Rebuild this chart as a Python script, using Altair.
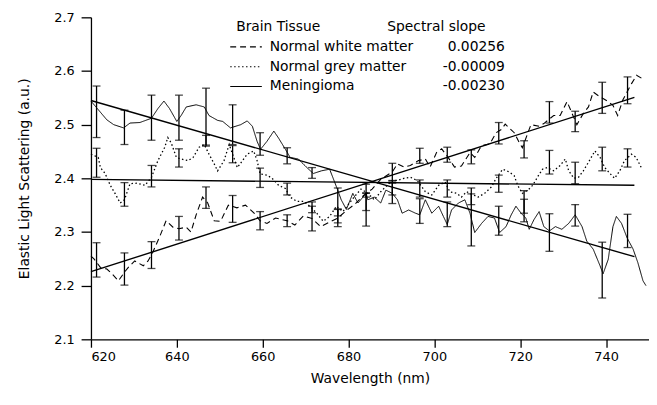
import altair as alt
import pandas as pd

# ---------------- data ----------------
# Normal white matter (dashed)
wm_wl = [620, 620.7, 622.2, 623.7, 624.9, 626.4, 627.8, 628.7, 630.2, 632.2, 633.3, 634.5, 636, 637.5,
         639.1, 640.5, 642.2, 643.3, 644.5, 646, 647.2, 648.7, 650.2, 652, 654, 656, 658, 659.4, 661,
         663, 665.7, 667.5, 669.5, 671.5, 673.5, 675.5, 677.5, 679.5, 681.5, 683.5, 685.5, 687.5, 690.2,
         691.4, 692.9, 694.4, 696.3, 697.9, 699, 700.5, 701.7, 703.2, 704.7, 706.3, 708.3, 709.4, 711,
         712.9, 714.4, 715.6, 716.5, 718.6, 719.8, 720.5, 722.5, 724.4, 725.5, 727.8, 729.3, 730.9,
         733.2, 734.7, 735.9, 737, 738.2, 740.5, 741.6, 742.7, 743.9, 745.9, 747.1, 749]
wm_val = [2.255, 2.250, 2.234, 2.231, 2.222, 2.209, 2.225, 2.234, 2.246, 2.237, 2.246, 2.264, 2.291, 2.321,
          2.309, 2.306, 2.309, 2.300, 2.332, 2.365, 2.354, 2.321, 2.320, 2.350, 2.345, 2.350, 2.335, 2.321, 2.316,
          2.326, 2.321, 2.313, 2.330, 2.325, 2.310, 2.318, 2.326, 2.340, 2.352, 2.368, 2.380, 2.398, 2.412,
          2.427, 2.421, 2.424, 2.433, 2.436, 2.421, 2.448, 2.455, 2.439, 2.421, 2.423, 2.448, 2.439, 2.461,
          2.464, 2.485, 2.491, 2.501, 2.485, 2.466, 2.457, 2.500, 2.497, 2.502, 2.517, 2.517, 2.543,
          2.500, 2.521, 2.533, 2.561, 2.554, 2.543, 2.536, 2.517, 2.546, 2.576, 2.592, 2.583]

# Normal grey matter (dotted)
gm_wl = [620, 621.7, 622.2, 623.3, 624.5, 625.6, 626.8, 627.8, 629.1, 630.7, 632.6, 634.1, 635.6, 637.2,
         637.9, 638.7, 639.9, 641, 642.6, 643.8, 645.2, 646.4, 647.5, 648.7, 649.5, 651, 652.2, 654.1,
         655.3, 656.4, 657.9, 658.7, 659.4, 661, 662.2, 663.7, 665.3, 666.4, 668, 669.6, 671, 672.6,
         674.1, 675.6, 677.2, 678.7, 680.2, 681.3, 682.9, 684.5, 686, 687.5, 689, 690.2, 691.4, 692.9,
         694.4, 696, 697.9, 699.4, 701, 702.5, 703.6, 705.2, 706.3, 707.5, 710.2, 711.7, 713.3, 714.4,
         715.9, 717.4, 718.6, 719.4, 720.5, 721.8, 722.9, 724, 725.2, 726.3, 727.8, 729.3, 730.5, 731.3,
         732.5, 733.6, 734.7, 735.9, 737.4, 738.6, 739.7, 740.9, 742, 743.2, 744.3, 745.9, 747, 748.2]
gm_val = [2.445, 2.439, 2.420, 2.409, 2.387, 2.372, 2.354, 2.360, 2.390, 2.391, 2.387, 2.402, 2.433, 2.458,
          2.476, 2.466, 2.439, 2.436, 2.433, 2.439, 2.458, 2.463, 2.445, 2.427, 2.414, 2.433, 2.463, 2.420,
          2.433, 2.445, 2.451, 2.433, 2.408, 2.406, 2.400, 2.387, 2.381, 2.365, 2.357, 2.357, 2.348, 2.335,
          2.320, 2.329, 2.348, 2.338, 2.354, 2.365, 2.380, 2.372, 2.360, 2.375, 2.387, 2.396, 2.396, 2.400,
          2.402, 2.396, 2.375, 2.369, 2.387, 2.393, 2.375, 2.372, 2.365, 2.375, 2.365, 2.372, 2.384, 2.400,
          2.417, 2.412, 2.405, 2.387, 2.372, 2.378, 2.387, 2.402, 2.417, 2.420, 2.414, 2.424, 2.436, 2.414,
          2.400, 2.402, 2.414, 2.430, 2.451, 2.439, 2.420, 2.409, 2.400, 2.414, 2.433, 2.445, 2.439, 2.420]

# Meningioma (solid)
mn_wl = [620, 623.7, 625.3, 627.6, 629.1, 631.4, 634.1, 635.6, 637, 638.3, 640, 641, 642.2, 644.5, 646.4,
         647.5, 649.5, 650.7, 652.5, 654.9, 656.4, 657.6, 658.7, 659.5, 661, 662.6, 663.7, 665.3, 666.4,
         668.3, 670.3, 671.8, 673.7, 675.6, 677.2, 678.3, 679.5, 681, 682.2, 684.1, 684.5, 686, 687.5,
         688.7, 690.2, 691.4, 692.5, 694, 695.6, 696.6, 697.9, 699.4, 701, 702.1, 703, 704, 705.6, 707.1,
         708.3, 709.4, 711, 712.5, 714, 715.2, 716.7, 717.9, 719, 720.2, 721.3, 722.1, 723.2, 724.4,
         725.5, 726.8, 728.2, 729.7, 731.3, 732.8, 734.4, 735.5, 737, 738.6, 739.3, 740.5, 741.6, 742.4,
         743.6, 744.9, 746.3, 747.4, 748.6, 749.3]
mn_val = [2.544, 2.509, 2.500, 2.494, 2.503, 2.504, 2.512, 2.530, 2.544, 2.530, 2.506, 2.517, 2.533, 2.537, 2.533,
          2.517, 2.508, 2.506, 2.494, 2.500, 2.507, 2.497, 2.469, 2.454, 2.469, 2.488, 2.475, 2.454, 2.439,
          2.436, 2.420, 2.409, 2.414, 2.417, 2.384, 2.360, 2.342, 2.372, 2.354, 2.372, 2.360, 2.365, 2.354,
          2.378, 2.372, 2.360, 2.335, 2.341, 2.335, 2.332, 2.360, 2.335, 2.348, 2.329, 2.314, 2.341, 2.354, 2.360,
          2.335, 2.299, 2.316, 2.329, 2.326, 2.299, 2.310, 2.332, 2.348, 2.335, 2.326, 2.305, 2.323, 2.338,
          2.310, 2.302, 2.310, 2.305, 2.316, 2.332, 2.310, 2.283, 2.268, 2.237, 2.222, 2.249, 2.310, 2.329,
          2.316, 2.289, 2.268, 2.243, 2.209, 2.200]

# Error bars (shared wavelengths): centre and half-width
bar_wl = [621.3, 627.8, 634.1, 640.5, 646.8, 653.0, 659.4, 665.7, 671.5, 677.5, 684.1,
          690.2, 696.6, 703.0, 708.6, 715.0, 720.9, 726.8, 732.8, 739.1, 745.0]
wm_bar_c = [2.248, 2.231, 2.257, 2.307, 2.364, 2.343, 2.321, 2.321, 2.325, 2.326, 2.377,
            2.412, 2.442, 2.444, 2.440, 2.484, 2.454, 2.523, 2.506, 2.550, 2.564]
wm_bar_e = [0.032, 0.030, 0.025, 0.022, 0.020, 0.025, 0.017, 0.011, 0.023, 0.016, 0.012,
            0.016, 0.014, 0.014, 0.013, 0.020, 0.016, 0.020, 0.019, 0.029, 0.025]
gm_bar_c = [2.429, 2.370, 2.404, 2.438, 2.470, 2.445, 2.401, 2.380, 2.346, 2.330, 2.356,
            2.382, 2.381, 2.381, 2.361, 2.390, 2.356, 2.430, 2.410, 2.436, 2.438]
gm_bar_e = [0.027, 0.022, 0.020, 0.017, 0.010, 0.016, 0.018, 0.011, 0.010, 0.013, 0.016,
            0.013, 0.016, 0.016, 0.010, 0.016, 0.021, 0.022, 0.020, 0.022, 0.017]
mn_bar_c = [2.524, 2.495, 2.513, 2.513, 2.515, 2.500, 2.464, 2.442, 2.410, 2.356, 2.342,
            2.372, 2.339, 2.333, 2.328, 2.321, 2.340, 2.299, 2.331, 2.229, 2.302]
mn_bar_e = [0.048, 0.032, 0.042, 0.042, 0.053, 0.037, 0.021, 0.015, 0.010, 0.026, 0.031,
            0.019, 0.023, 0.023, 0.054, 0.027, 0.021, 0.035, 0.020, 0.052, 0.031]

# Linear fits: wavelength range and fitted values at the ends
fit_wl = [620, 746.6]
wm_fit = [2.226, 2.551]
gm_fit = [2.398, 2.387]
mn_fit = [2.545, 2.254]

# Legend text
legend_head = ["Brain Tissue", "Spectral slope"]
legend_names = ["Normal white matter", "Normal grey matter", "Meningioma"]
legend_slopes = ["0.00256", "-0.00009", "-0.00230"]

x_ticks = [620, 640, 660, 680, 700, 720, 740]
y_ticks = [2.1, 2.2, 2.3, 2.4, 2.5, 2.6, 2.7]

# ---------------- chart ----------------
W, H = 565, 326
FONT = "DejaVu Sans"
DASHES = [[6, 4], [1.5, 2.5], [1, 0]]

xs = alt.Scale(domain=[620, 750], nice=False, zero=False)
ys = alt.Scale(domain=[2.1, 2.7], nice=False, zero=False)

X = alt.X("wl:Q", scale=xs,
          axis=alt.Axis(values=x_ticks, format="d", title="Wavelength (nm)", grid=False,
                        tickSize=8, labelPadding=3, titlePadding=9))
Y = alt.Y("val:Q", scale=ys,
          axis=alt.Axis(values=y_ticks, format=".1f", title="Elastic Light Scattering (a.u.)",
                        grid=False, tickSize=10, labelPadding=7, titlePadding=23))

layers = []
series = [(wm_wl, wm_val, wm_bar_c, wm_bar_e, wm_fit, DASHES[0], 1.1),
          (gm_wl, gm_val, gm_bar_c, gm_bar_e, gm_fit, DASHES[1], 1.3),
          (mn_wl, mn_val, mn_bar_c, mn_bar_e, mn_fit, DASHES[2], 1.0)]

first = True
for wl, val, bc, be, fit, dash, sw in series:
    cdf = pd.DataFrame({"wl": wl, "val": val})
    xe = X if first else alt.X("wl:Q", scale=xs)
    ye = Y if first else alt.Y("val:Q", scale=ys)
    first = False
    layers.append(alt.Chart(cdf).mark_line(color="black", strokeWidth=sw, strokeDash=dash)
                  .encode(x=xe, y=ye))
    fdf = pd.DataFrame({"wl": fit_wl, "val": fit})
    layers.append(alt.Chart(fdf).mark_line(color="black", strokeWidth=1.4)
                  .encode(x=alt.X("wl:Q", scale=xs), y=alt.Y("val:Q", scale=ys)))
    bdf = pd.DataFrame({"wl": bar_wl,
                        "lo": [c - e for c, e in zip(bc, be)],
                        "hi": [c + e for c, e in zip(bc, be)]})
    layers.append(alt.Chart(bdf).mark_rule(color="black", strokeWidth=1.3)
                  .encode(x=alt.X("wl:Q", scale=xs), y=alt.Y("lo:Q", scale=ys), y2="hi:Q"))
    for col in ["lo", "hi"]:
        layers.append(alt.Chart(bdf).mark_tick(color="black", orient="horizontal", size=8, thickness=1.3)
                      .encode(x=alt.X("wl:Q", scale=xs), y=alt.Y(f"{col}:Q", scale=ys)))

# legend (annotation layer in pixel space of the plot area)
LX, LY0, ROW = 141, 30, 20
LFS = 14
head_df = pd.DataFrame({"t": legend_head, "px": [LX + 6, LX + 159], "py": [LY0 - ROW, LY0 - ROW]})
layers.append(alt.Chart(head_df).mark_text(align="left", baseline="middle", font=FONT, fontSize=LFS,
                                           color="black")
              .encode(x=alt.X("px:Q", scale=None), y=alt.Y("py:Q", scale=None), text="t:N"))
name_df = pd.DataFrame({"t": legend_names, "s": legend_slopes,
                        "py": [LY0 + ROW * i for i in range(3)]})
layers.append(alt.Chart(name_df).mark_text(align="left", baseline="middle", font=FONT, fontSize=LFS,
                                           color="black")
              .encode(x=alt.value(LX + 40), y=alt.Y("py:Q", scale=None), text="t:N"))
layers.append(alt.Chart(name_df).mark_text(align="right", baseline="middle", font=FONT, fontSize=LFS,
                                           color="black")
              .encode(x=alt.value(LX + 278), y=alt.Y("py:Q", scale=None), text="s:N"))
for i, dash in enumerate(DASHES):
    sdf = pd.DataFrame({"py": [LY0 + ROW * i]})
    layers.append(alt.Chart(sdf).mark_rule(color="black", strokeWidth=1.2, strokeDash=dash)
                  .encode(x=alt.value(LX), x2=alt.value(LX + 32), y=alt.Y("py:Q", scale=None)))

chart = alt.layer(*layers).properties(
    width=W, height=H,
    autosize=alt.AutoSizeParams(type="none"),
    padding={"left": 84, "top": 7, "right": 0, "bottom": 60},
    background="white",
).configure_view(stroke=None).configure_axis(
    domainColor="black", tickColor="black", labelColor="black", titleColor="black",
    labelFont=FONT, titleFont=FONT, labelFontSize=13, titleFontSize=14,
    titleFontWeight="normal", domainWidth=1.3, tickWidth=1.3,
)

chart.save("out.html", embed_options={"renderer": "svg", "actions": False})
